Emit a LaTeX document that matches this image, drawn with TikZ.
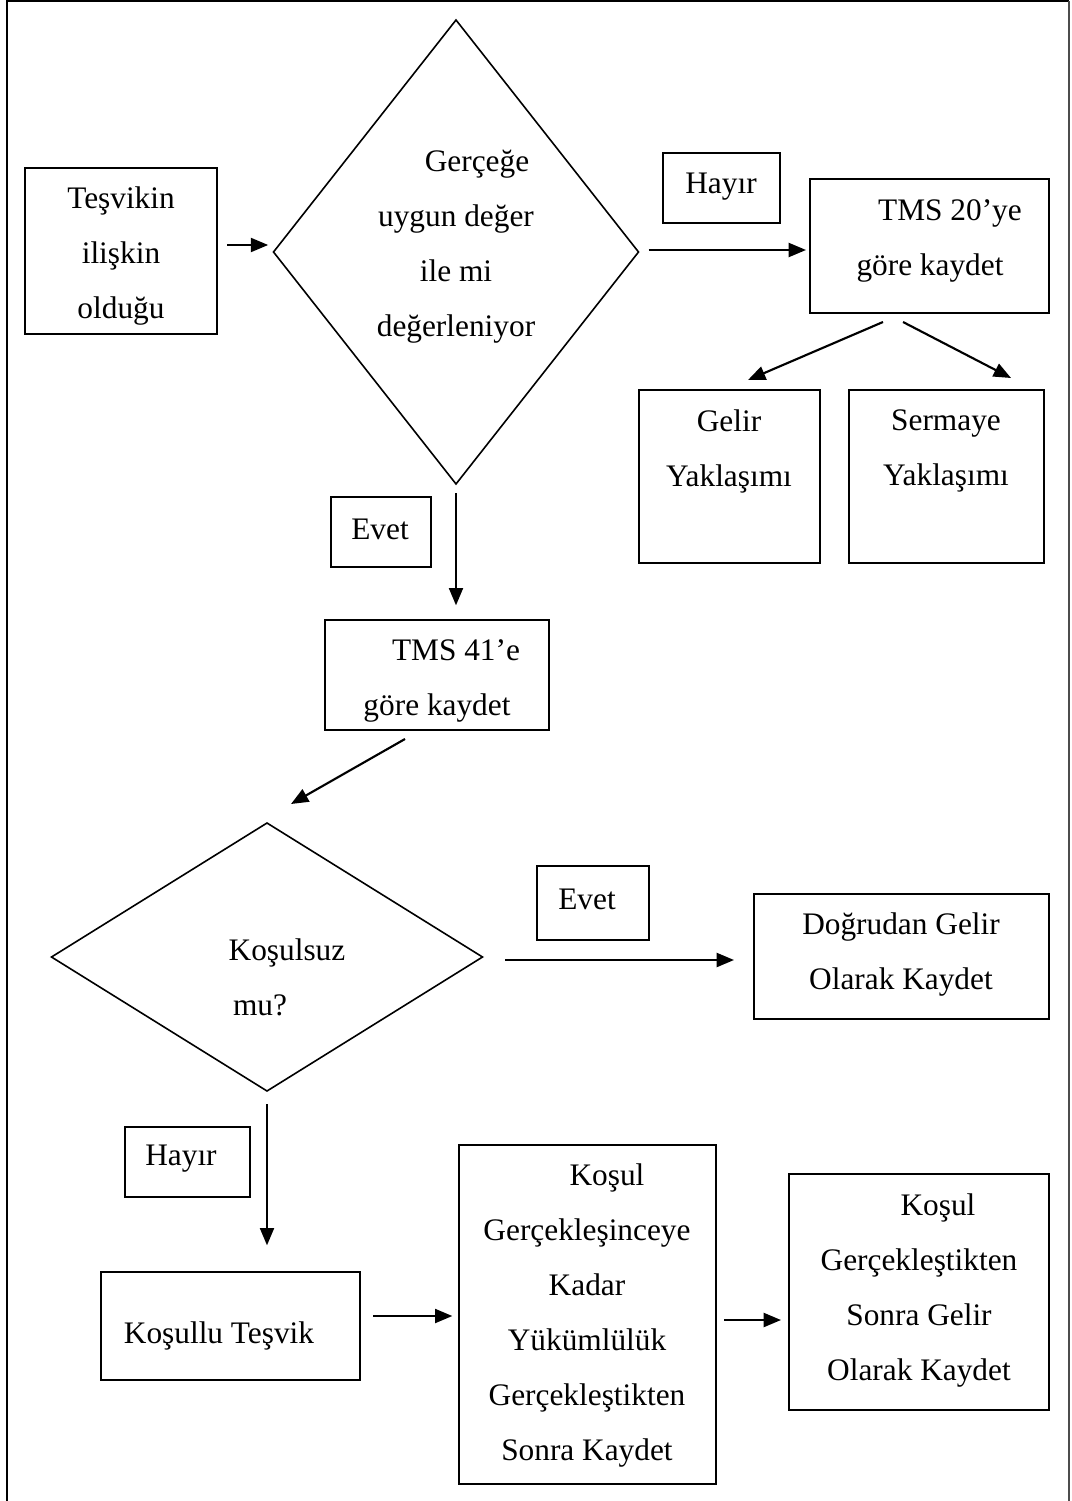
\documentclass[tikz,border=0pt]{standalone}
\usepackage{fontspec}
\setmainfont{Liberation Serif}
\usetikzlibrary{arrows.meta,shapes.geometric}
\begin{document}
\begin{tikzpicture}[x=0.75pt,y=-0.75pt,
  every node/.style={inner sep=0pt,outer sep=0pt},
  sz/.style 2 args={minimum width={#1*0.75pt},minimum height={#2*0.75pt}},
  box/.style={draw,line width=1.3pt,rectangle},
  dia/.style={draw,line width=1.2pt,diamond,shape aspect=1},
  txt/.style={align=center,font=\fontsize{23.5}{41.25}\selectfont},
  arr/.style={line width=1.6pt,-{Triangle[length=13pt,width=10.5pt]}}]
\useasboundingbox (0,0) rectangle (1071,1501);
% outer frame
\draw[line width=1.5pt] (7,1501) -- (7,1) -- (1069,1);
\draw[line width=0.8pt,black!70] (1069,1) -- (1069,1501);

% shapes
\node[box,sz={192}{166}] (b1) at (121,251) {};
\node[dia,sz={365}{464}] (d1) at (456,252) {};
\node[box,sz={117}{70}] (h1) at (721.5,188) {};
\node[box,sz={239}{134}] (b2) at (929.5,246) {};
\node[box,sz={181}{173}] (gel) at (729.5,476.5) {};
\node[box,sz={195}{173}] (ser) at (946.5,476.5) {};
\node[box,sz={100}{70}] (e1) at (381,532) {};
\node[box,sz={224}{110}] (b3) at (437,675) {};
\node[dia,sz={431}{268}] (d2) at (267,957) {};
\node[box,sz={112}{74}] (e2) at (593,903) {};
\node[box,sz={295}{125}] (dg) at (901.5,956.5) {};
\node[box,sz={125}{70}] (h2) at (187.5,1162) {};
\node[box,sz={259}{108}] (ks) at (230.5,1326) {};
\node[box,sz={257}{339}] (mid) at (587.5,1314.5) {};
\node[box,sz={260}{236}] (rt) at (919,1292) {};

% texts
\node[txt] (t1) at (121,256) {Teşvikin\\ilişkin\\olduğu};
\node[txt] (td1) at (456,246.5) {\hspace*{31.5pt}Gerçeğe\\uygun değer\\ile mi\\değerleniyor};
\node[txt] (th1) at (721,187) {Hayır};
\node[txt] (tb2) at (930,240.5) {\hspace*{30pt}TMS 20’ye\\göre kaydet};
\node[txt] (tgel) at (729,451) {Gelir\\Yaklaşımı};
\node[txt] (tser) at (946,451) {Sermaye\\Yaklaşımı};
\node[txt] (te1) at (380,529) {Evet};
\node[txt] (tb3) at (437,681) {\hspace*{28.5pt}TMS 41’e\\göre kaydet};
\node[txt] (td2) at (260,977.5) {\hspace*{40.5pt}Koşulsuz\\mu?};
\node[txt] (te2) at (587,899) {Evet};
\node[txt] (tdg) at (901,955) {Doğrudan Gelir\\Olarak Kaydet};
\node[txt] (th2) at (181,1159) {Hayır};
\node[txt] (tks) at (219,1336) {Koşullu Teşvik};
\node[txt] (tmid) at (587,1315.5) {\hspace*{30pt}Koşul\\Gerçekleşinceye\\Kadar\\Yükümlülük\\Gerçekleştikten\\Sonra Kaydet};
\node[txt] (trt) at (919,1290) {\hspace*{28.5pt}Koşul\\Gerçekleştikten\\Sonra Gelir\\Olarak Kaydet};

% connectors
\draw[arr,shorten <=7.5pt,shorten >=4pt] ([shift={(0,-6)}]b1.east) -- ([shift={(0,-6)}]b1.east -| d1.west);
\draw[arr,shorten <=7.5pt,shorten >=3pt] ([shift={(0,-2)}]d1.east) -- ([shift={(0,-2)}]d1.east -| b2.west);
\draw[arr] ([shift={(-46.5,9)}]b2.south) -- ([shift={(18.5,-10)}]gel.north);
\draw[arr] ([shift={(-26.5,9)}]b2.south) -- ([shift={(64.5,-12)}]ser.north);
\draw[arr,shorten <=7pt,shorten >=11pt] (d1.south) -- (d1.south |- b3.north);
\draw[arr] ([shift={(-32,9)}]b3.south) -- ([shift={(24,-19)}]d2.north);
\draw[arr,shorten <=17pt,shorten >=15pt] ([shift={(0,3)}]d2.east) -- ([shift={(0,3)}]d2.east -| dg.west);
\draw[arr,shorten <=10pt,shorten >=20pt] (d2.south) -- (d2.south |- ks.north);
\draw[arr,shorten <=10pt,shorten >=5pt] ([shift={(0,-10)}]ks.east) -- ([shift={(0,-10)}]ks.east -| mid.west);
\draw[arr,shorten <=6pt,shorten >=6pt] ([shift={(0,5.5)}]mid.east) -- ([shift={(0,5.5)}]mid.east -| rt.west);
\end{tikzpicture}
\end{document}
